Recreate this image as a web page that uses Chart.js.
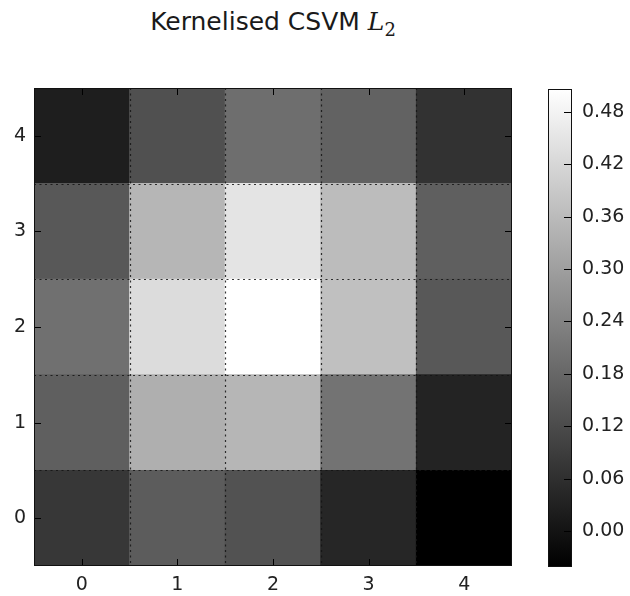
<!DOCTYPE html>
<html>
<head>
<meta charset="utf-8">
<script src="https://cdn.jsdelivr.net/npm/chart.js@4.4.1/dist/chart.umd.min.js"></script>
<style>
  body { margin: 0; background: #fff; width: 630px; height: 596px; position: relative; overflow: hidden; font-family: "DejaVu Sans"; }
  #title { position: absolute; left: 0; top: 9px; width: 546px; text-align: center; font-size: 25px; line-height: 25px; color: #1a1a1a; white-space: nowrap; }
  #title i { font-family: "DejaVu Serif"; }
  #title sub { font-family: "DejaVu Serif"; font-size: 18px; line-height: 0; }
  #heat { position: absolute; left: 0; top: 0; }
  #cbar { position: absolute; left: 520px; top: 0; }
</style>
</head>
<body>
<div id="title">Kernelised CSVM <i>L</i><sub>2</sub></div>
<canvas id="heat" width="520" height="596"></canvas>
<canvas id="cbar" width="110" height="596"></canvas>
<script>
// categories on both axes
const colLabels = ['0', '1', '2', '3', '4']
const rowLabels = [0, 1, 2, 3, 4]

const row0 = [0.077, 0.156, 0.135, 0.041, -0.041]
const row1 = [0.163, 0.334, 0.349, 0.206, 0.034]
const row2 = [0.199, 0.431, 0.506, 0.371, 0.148]
const row3 = [0.148, 0.349, 0.448, 0.362, 0.163]
const row4 = [0.023, 0.131, 0.195, 0.169, 0.066]

// colour bar ticks
const cbarTicks = [0.00, 0.06, 0.12, 0.18, 0.24, 0.30, 0.36, 0.42, 0.48]

const rows = [row0, row1, row2, row3, row4]
const allValues = rows.flat()
const vMin = Math.min(...allValues)
const vMax = Math.max(...allValues)

const tickFont = { family: 'DejaVu Sans', size: 19 }
const tickColor = '#222'
const tickLen = 7

// matplotlib "gray" colormap
function grayOf(v) {
    let g = Math.round(255 * (v - vMin) / (vMax - vMin))
    g = Math.max(0, Math.min(255, g))
    return `rgb(${g},${g},${g})`
}

// frame, dotted cell borders and inward ticks on the heatmap
const heatFrame = {
    id: 'heatFrame',
    afterDatasetsDraw(chart) {
        const { ctx, chartArea: a, scales: { x, y } } = chart
        ctx.save()
        ctx.lineWidth = 1.2
        ctx.strokeStyle = 'rgba(20,20,20,0.85)'
        ctx.setLineDash([2, 3.5])
        for (let i = 0; i < colLabels.length - 1; i++) {
            const px = Math.round((x.getPixelForValue(i) + x.getPixelForValue(i + 1)) / 2) + 0.5
            ctx.beginPath()
            ctx.moveTo(px, a.top)
            ctx.lineTo(px, a.bottom)
            ctx.stroke()
        }
        for (let i = 0; i < rowLabels.length - 1; i++) {
            const py = Math.round(y.getPixelForValue(rowLabels[i] + 0.5)) + 0.5
            ctx.beginPath()
            ctx.moveTo(a.left, py)
            ctx.lineTo(a.right, py)
            ctx.stroke()
        }
        ctx.setLineDash([])
        ctx.lineWidth = 1
        ctx.strokeStyle = '#000'
        for (let i = 0; i < colLabels.length; i++) {
            const px = Math.round(x.getPixelForValue(i)) + 0.5
            ctx.beginPath()
            ctx.moveTo(px, a.bottom)
            ctx.lineTo(px, a.bottom - tickLen)
            ctx.moveTo(px, a.top)
            ctx.lineTo(px, a.top + tickLen)
            ctx.stroke()
        }
        rowLabels.forEach(v => {
            const py = Math.round(y.getPixelForValue(v)) + 0.5
            ctx.beginPath()
            ctx.moveTo(a.left, py)
            ctx.lineTo(a.left + tickLen, py)
            ctx.moveTo(a.right, py)
            ctx.lineTo(a.right - tickLen, py)
            ctx.stroke()
        })
        ctx.strokeStyle = '#111'
        ctx.strokeRect(Math.round(a.left) + 0.5, Math.round(a.top) + 0.5,
            Math.round(a.right - a.left) - 1, Math.round(a.bottom - a.top) - 1)
        ctx.restore()
    }
}

const heatChart = new Chart(document.getElementById('heat'), {
    type: 'bar',
    data: {
        labels: colLabels,
        datasets: rows.map((vals, r) => ({
            data: vals.map(() => [rowLabels[r] - 0.5, rowLabels[r] + 0.5]),
            backgroundColor: vals.map(grayOf),
            borderWidth: 0,
            inflateAmount: 0.5,
            barPercentage: 1,
            categoryPercentage: 1,
            grouped: false
        }))
    },
    options: {
        responsive: false,
        animation: false,
        layout: { padding: { top: 88, right: 8, left: 0, bottom: 0 } },
        plugins: { legend: { display: false }, tooltip: { enabled: false } },
        scales: {
            x: {
                type: 'category',
                offset: true,
                grid: { display: false, drawTicks: false },
                border: { display: false },
                ticks: { font: tickFont, color: tickColor, padding: 8, maxRotation: 0 },
                afterFit(s) { s.height = 30 }
            },
            y: {
                type: 'linear',
                min: -0.5,
                max: 4.5,
                afterBuildTicks(s) { s.ticks = rowLabels.map(v => ({ value: v })) },
                grid: { display: false, drawTicks: false },
                border: { display: false },
                ticks: { font: tickFont, color: tickColor, padding: 8 },
                afterFit(s) { s.width = 34 }
            }
        }
    },
    plugins: [heatFrame]
})

// frame and inward ticks on the colour bar
const cbarFrame = {
    id: 'cbarFrame',
    afterDatasetsDraw(chart) {
        const { ctx, chartArea: a, scales: { y } } = chart
        ctx.save()
        ctx.lineWidth = 1
        ctx.strokeStyle = '#000'
        cbarTicks.forEach(v => {
            const py = Math.round(y.getPixelForValue(v)) + 0.5
            ctx.beginPath()
            ctx.moveTo(a.right, py)
            ctx.lineTo(a.right - tickLen - 1, py)
            ctx.stroke()
        })
        ctx.strokeStyle = '#111'
        ctx.strokeRect(Math.round(a.left) + 0.5, Math.round(a.top) + 0.5,
            Math.round(a.right - a.left) - 1, Math.round(a.bottom - a.top) - 1)
        ctx.restore()
    }
}

const cbarChart = new Chart(document.getElementById('cbar'), {
    type: 'bar',
    data: {
        labels: [''],
        datasets: [{
            data: [[vMin, vMax]],
            backgroundColor(c) {
                const a = c.chart.chartArea
                if (!a) return '#888'
                const g = c.chart.ctx.createLinearGradient(0, a.bottom, 0, a.top)
                g.addColorStop(0, '#000')
                g.addColorStop(1, '#fff')
                return g
            },
            borderWidth: 0,
            barPercentage: 1,
            categoryPercentage: 1
        }]
    },
    options: {
        responsive: false,
        animation: false,
        layout: { padding: { top: 89, left: 28, right: 0, bottom: 29 } },
        plugins: { legend: { display: false }, tooltip: { enabled: false } },
        scales: {
            x: { display: false },
            y: {
                position: 'right',
                min: vMin,
                max: vMax,
                afterBuildTicks(s) { s.ticks = cbarTicks.map(v => ({ value: v })) },
                grid: { display: false, drawTicks: false },
                border: { display: false },
                ticks: { font: tickFont, color: tickColor, padding: 10, callback: v => v.toFixed(2) },
                afterFit(s) { s.width = 58 }
            }
        }
    },
    plugins: [cbarFrame]
})
</script>
</body>
</html>
